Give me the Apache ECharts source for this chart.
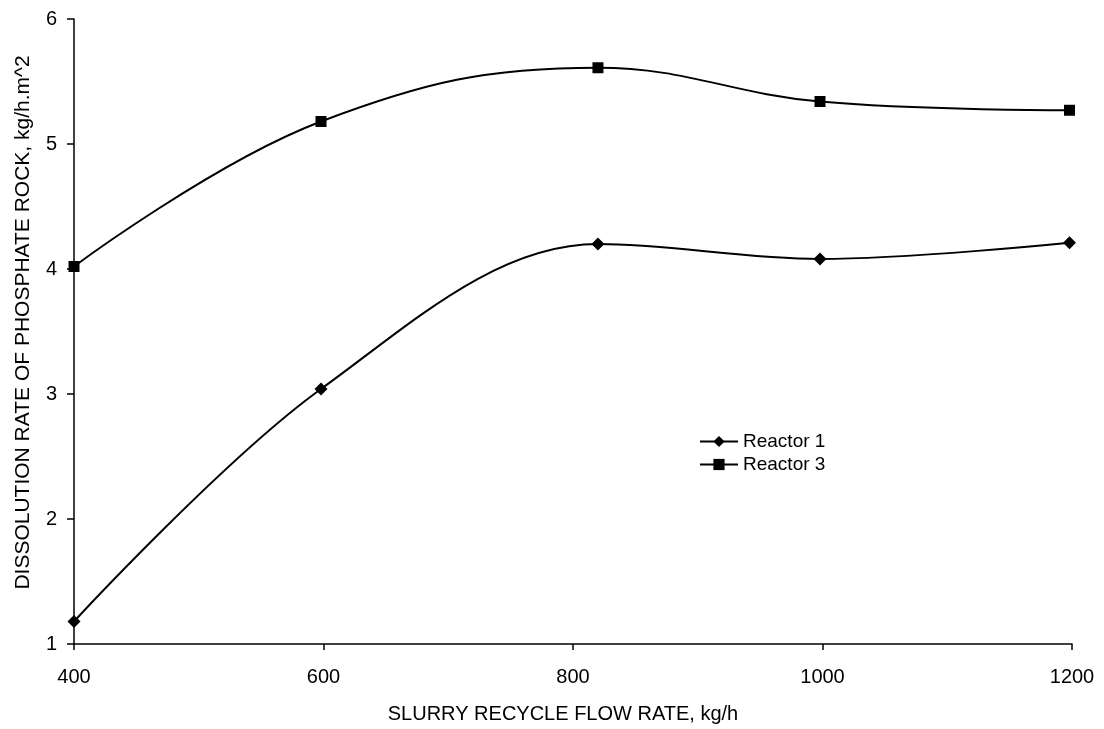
<!DOCTYPE html>
<html>
<head>
<meta charset="utf-8">
<title>Dissolution rate vs slurry recycle flow rate</title>
<script src="https://cdn.jsdelivr.net/npm/echarts@6/dist/echarts.min.js"></script>
<style>
    html, body { margin: 0; padding: 0; background: #fff; }
    #container { width: 1104px; height: 729px; }
</style>
</head>
<body>
<div id="container"></div>
<script>
// 数据
var flowRate = [400, 598, 820, 998, 1198];
var reactor1 = [1.18, 3.04, 4.20, 4.08, 4.21];
var reactor3 = [4.02, 5.18, 5.61, 5.34, 5.27];
var xTicks = [400, 600, 800, 1000, 1200];
var yTicks = [1, 2, 3, 4, 5, 6];

function pairs(xs, ys) {
    return xs.map(function (x, i) { return [x, ys[i]]; });
}

var myChart = echarts.init(document.getElementById('container'));
var font = 'Liberation Sans, Arial, sans-serif';

option = {
    animation: false,
    textStyle: { fontFamily: font, color: '#000' },
    grid: {
        left: 74,
        right: 32,
        top: 19,
        bottom: 80
    },
    legend: {
        orient: 'vertical',
        left: 694,
        top: 427,
        itemWidth: 38,
        itemHeight: 14,
        itemGap: 4,
        textStyle: { fontSize: 19, color: '#000', fontFamily: font },
        data: ['Reactor 1', 'Reactor 3']
    },
    xAxis: {
        type: 'value',
        min: xTicks[0],
        max: xTicks[xTicks.length - 1],
        interval: 200,
        name: 'SLURRY RECYCLE FLOW RATE, kg/h',
        nameLocation: 'middle',
        nameGap: 60,
        nameTextStyle: { fontSize: 20, color: '#000', padding: [0, 20, 0, 0] },
        axisLine: { lineStyle: { color: '#000', width: 1.5 } },
        axisTick: { show: true, length: 6, lineStyle: { color: '#000', width: 1.5 } },
        axisLabel: {
            fontSize: 20, color: '#000', margin: 23,
            formatter: function (v) { return String(v); }
        },
        splitLine: { show: false }
    },
    yAxis: {
        type: 'value',
        min: yTicks[0],
        max: yTicks[yTicks.length - 1],
        interval: 1,
        name: 'DISSOLUTION RATE OF PHOSPHATE ROCK, kg/h.m^2',
        nameLocation: 'middle',
        nameGap: 40,
        nameRotate: 90,
        nameTextStyle: { fontSize: 21, color: '#000', padding: [0, 0, 0, 18] },
        axisLine: { show: true, lineStyle: { color: '#000', width: 1.5 } },
        axisTick: { show: true, length: 7, lineStyle: { color: '#000', width: 1.5 } },
        axisLabel: { fontSize: 20, color: '#000', margin: 17 },
        splitLine: { show: false }
    },
    series: [
        {
            name: 'Reactor 1',
            type: 'line',
            smooth: 0.35,
            symbol: 'diamond',
            symbolSize: 13,
            itemStyle: { color: '#000' },
            lineStyle: { color: '#000', width: 2 },
            data: pairs(flowRate, reactor1)
        },
        {
            name: 'Reactor 3',
            type: 'line',
            smooth: 0.4,
            symbol: 'rect',
            symbolSize: 11,
            itemStyle: { color: '#000' },
            lineStyle: { color: '#000', width: 2 },
            data: pairs(flowRate, reactor3)
        }
    ]
};
myChart.setOption(option);
</script>
</body>
</html>
